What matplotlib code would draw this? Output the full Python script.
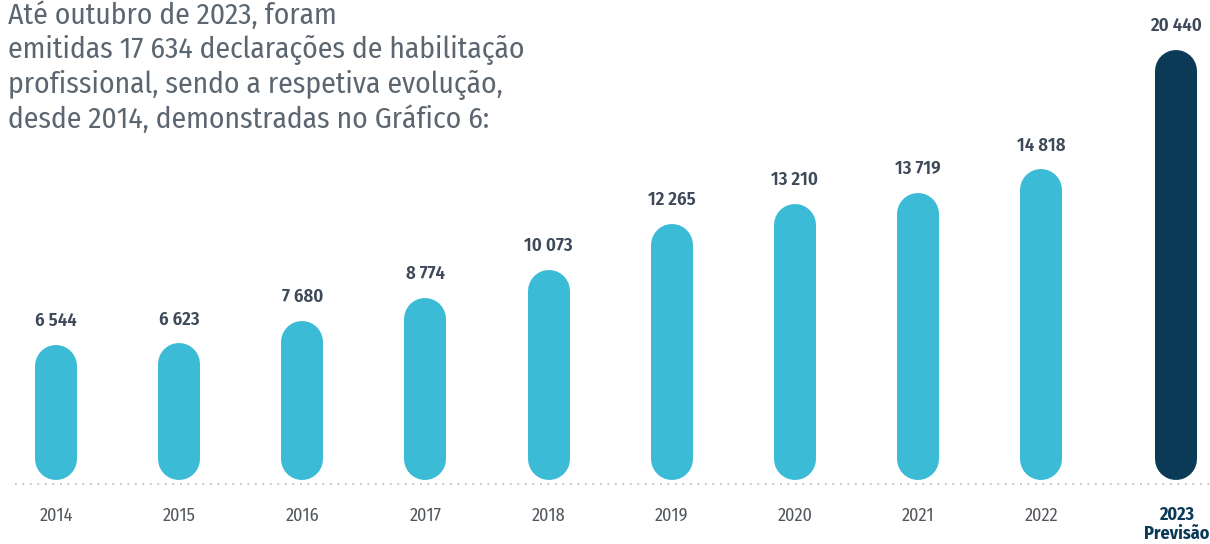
import matplotlib.pyplot as plt
import numpy as np

years = ["2014", "2015", "2016", "2017", "2018", "2019", "2020", "2021", "2022", "2023"]
values = [6544, 6623, 7680, 8774, 10073, 12265, 13210, 13719, 14818, 20440]
value_labels = ["6 544", "6 623", "7 680", "8 774", "10 073", "12 265", "13 210", "13 719", "14 818", "20 440"]
header = ("Até outubro de 2023, foram\n"
          "emitidas 17 634 declarações de habilitação\n"
          "profissional, sendo a respetiva evolução,\n"
          "desde 2014, demonstradas no Gráfico 6:")

plt.rcParams['font.family'] = ['Fira Sans Condensed', 'DejaVu Sans']

light = "#3bbbd5"
dark = "#0b3a57"
W, H = 1210, 544
fig = plt.figure(figsize=(W / 100, H / 100), dpi=100)

base_px = 484          # pixel row of value 0
top_px = 50            # pixel row of the tallest bar top
ax = fig.add_axes([0, (H - base_px) / H, 1, base_px / H])
ymax = max(values) * base_px / (base_px - top_px)
ax.set_ylim(0, ymax)
step = (1041 - 56) / 8
ax.set_xlim(-56 / step, (W - 56) / step)
ax.axis("off")

unit = ymax / base_px        # data units per pixel
r = 21 * unit                 # cap radius
gap = 4 * unit
x = np.arange(len(years), dtype=float)
x[-1] += 0.1                  # forecast bar sits a little apart
for i, v in enumerate(values):
    c = dark if i == len(values) - 1 else light
    ax.plot([x[i], x[i]], [gap + r, v - r], color=c, lw=42 * 0.72,
            solid_capstyle="round")
    ax.text(x[i], v + 15 * unit, value_labels[i], ha="center", va="bottom",
            fontsize=13.5, fontweight="semibold", color="#3e4a5a")

ax.plot([(15 - 56) / step, (W - 56) / step], [0, 0], color="#b5b9bd", lw=1.2,
        ls=(0, (1, 3.5)), clip_on=False)

for i, yr in enumerate(years):
    if i == len(years) - 1:
        ax.text(x[i], -22 * unit, yr + "\nPrevisão", ha="center", va="top",
                fontsize=13, fontweight="bold", color=dark, linespacing=1.1,
                clip_on=False)
    else:
        ax.text(x[i], -23 * unit, yr, ha="center", va="top",
                fontsize=13, fontweight="normal", color="#51565c", clip_on=False)

fig.text(8 / W, 1 - 1 / H, header, ha="left", va="top", fontsize=21.3,
         color="#5b6670", linespacing=1.22)

fig.savefig("out.png", dpi=100)
